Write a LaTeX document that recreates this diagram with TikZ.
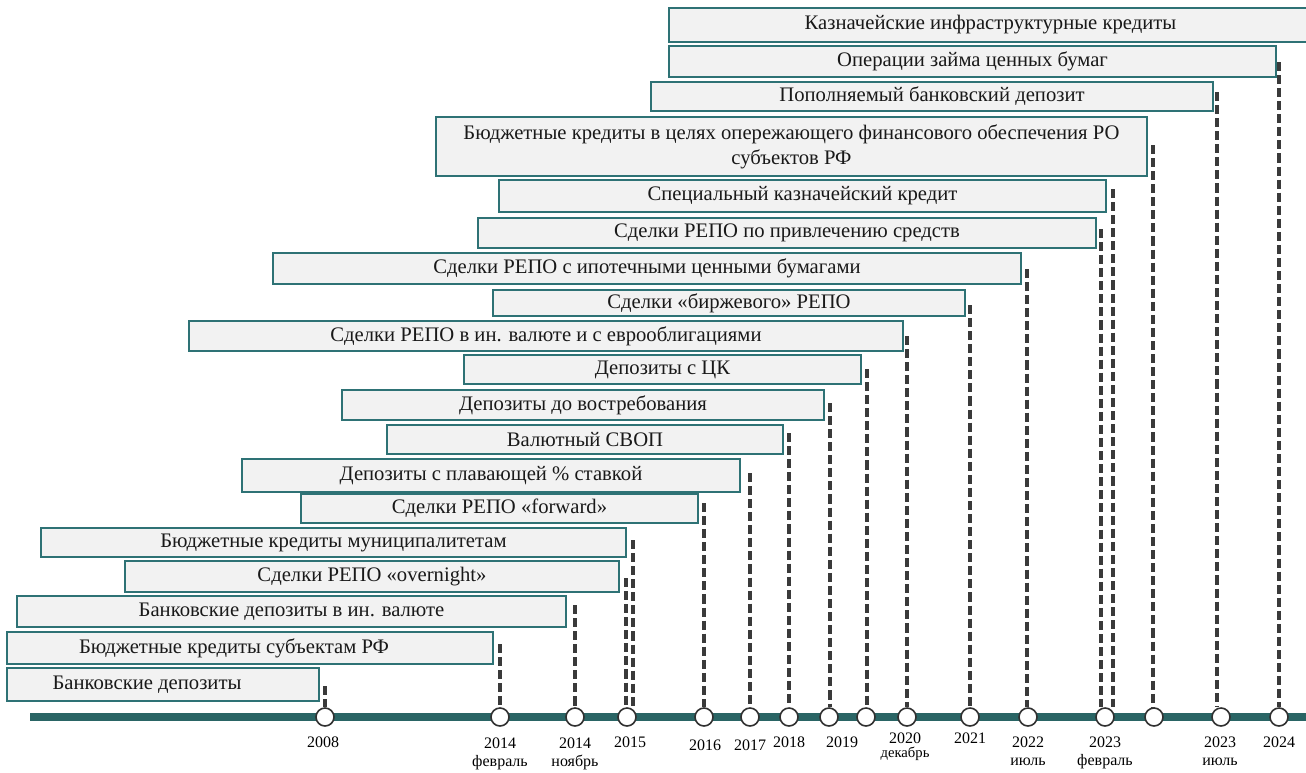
\documentclass[tikz,border=0pt]{standalone}
\usepackage{fontspec}
\setmainfont{Liberation Serif}
\definecolor{boxfill}{HTML}{F2F2F2}
\definecolor{boxedge}{HTML}{2E7275}
\definecolor{linecol}{HTML}{2A6565}
\definecolor{dashgray}{HTML}{3A3A3A}
\definecolor{dotedge}{HTML}{303030}
\newcommand\tbx[6]{\node[tbox, anchor=north west, minimum width={(#4-#2)*0.75pt}, minimum height={(#5-#3)*0.75pt}] (#1) at (#2,#3) {#6};}
\begin{document}
\begin{tikzpicture}[x=0.75pt,y=-0.75pt,
  tbox/.style={draw=boxedge, line width=1.5pt, fill=boxfill, inner sep=0pt, outer sep=0pt,
    font=\fontsize{15.5}{19}\selectfont, text=black!90, align=center},
  dashconn/.style={draw=dashgray, line width=2.6pt, dash pattern=on 6.8pt off 3pt},
  tdot/.style={circle, draw=dotedge, fill=white, line width=1.2pt, minimum size=13.5pt, inner sep=0pt},
  tline/.style={draw=linecol, line width=6pt},
  ylab/.style={font=\fontsize{12}{13.5}\selectfont, align=center, anchor=north, inner sep=0pt, text=black}]
\useasboundingbox (0,0) rectangle (1306,772);

% boxes
\tbx{b1}{669}{8}{1312}{42}{Казначейские инфраструктурные кредиты}
\tbx{b2}{669}{46}{1276}{77}{Операции займа ценных бумаг}
\tbx{b3}{651}{82}{1213}{111}{Пополняемый банковский депозит}
\tbx{b4}{436}{117}{1147}{176}{Бюджетные кредиты в целях опережающего финансового обеспечения РО\\субъектов РФ}
\tbx{b5}{499}{180}{1106}{212}{Специальный казначейский кредит}
\tbx{b6}{478}{218}{1096}{248}{Сделки РЕПО по привлечению средств}
\tbx{b7}{273}{253}{1021}{284}{Сделки РЕПО с ипотечными ценными бумагами}
\tbx{b8}{493}{290}{965}{316}{Сделки «биржевого» РЕПО}
\tbx{b9}{189}{321}{903}{351}{Сделки РЕПО в ин. валюте и с еврооблигациями}
\tbx{b10}{464}{355}{861}{384}{Депозиты с ЦК}
\tbx{b11}{342}{390}{824}{420}{Депозиты до востребования}
\tbx{b12}{387}{425}{783}{454}{Валютный СВОП}
\tbx{b13}{242}{459}{740}{492}{Депозиты с плавающей \% ставкой}
\tbx{b14}{301}{494}{698}{523}{Сделки РЕПО «forward»}
\tbx{b15}{41}{528}{626}{557}{Бюджетные кредиты муниципалитетам}
\tbx{b16}{125}{561}{619}{592}{Сделки РЕПО «overnight»}
\tbx{b17}{17}{596}{566}{627}{Банковские депозиты в ин. валюте}
\tbx{b18}{7}{632}{493}{664}{\hspace*{-24pt}Бюджетные кредиты субъектам РФ}
\tbx{b19}{7}{668}{319}{701}{\hspace*{-24pt}Банковские депозиты}

% timeline
\coordinate (tl0) at (30,717);
\coordinate (tl1) at (1310,717);
\draw[tline] (tl0) -- (tl1);

% dashed connector start points
\coordinate (s19) at (325,686);
\coordinate (s18) at (500,644);
\coordinate (s17) at (575,605);
\coordinate (s16) at (626,578);
\coordinate (s15) at (633,540);
\coordinate (s14) at (704,503);
\coordinate (s13) at (750,473);
\coordinate (s12) at (789,433);
\coordinate (s11) at (830,403);
\coordinate (s10) at (867,369);
\coordinate (s9) at (907,336);
\coordinate (s8) at (970,305);
\coordinate (s7) at (1027,269);
\coordinate (s6) at (1101,229);
\coordinate (s5) at (1113,189);
\coordinate (s4) at (1153,145);
\coordinate (s3) at (1217,92);
\coordinate (s2) at (1279,62);

% circles
\node[tdot] (c1) at (325,717) {};
\node[tdot] (c2) at (500,717) {};
\node[tdot] (c3) at (575,717) {};
\node[tdot] (c4) at (627,717) {};
\node[tdot] (c5) at (704,717) {};
\node[tdot] (c6) at (750,717) {};
\node[tdot] (c7) at (789,717) {};
\node[tdot] (c8) at (829,717) {};
\node[tdot] (c9) at (866,717) {};
\node[tdot] (c10) at (907,717) {};
\node[tdot] (c11) at (970,717) {};
\node[tdot] (c12) at (1028,717) {};
\node[tdot] (c13) at (1105,717) {};
\node[tdot] (c14) at (1154,717) {};
\node[tdot] (c15) at (1221,717) {};
\node[tdot] (c16) at (1279,717) {};

\draw[dashconn] (s19) -- (s19 |- c1.north);
\draw[dashconn] (s18) -- (s18 |- c2.north);
\draw[dashconn] (s17) -- (s17 |- c3.north);
\draw[dashconn] (s16) -- (s16 |- c4.north);
\draw[dashconn] (s15) -- (s15 |- c4.north);
\draw[dashconn] (s14) -- (s14 |- c5.north);
\draw[dashconn] (s13) -- (s13 |- c6.north);
\draw[dashconn] (s12) -- (s12 |- c7.north);
\draw[dashconn] (s11) -- (s11 |- c8.north);
\draw[dashconn] (s10) -- (s10 |- c9.north);
\draw[dashconn] (s9) -- (s9 |- c10.north);
\draw[dashconn] (s8) -- (s8 |- c11.north);
\draw[dashconn] (s7) -- (s7 |- c12.north);
\draw[dashconn] (s6) -- (s6 |- c13.north);
\draw[dashconn] (s5) -- (s5 |- c13.north);
\draw[dashconn] (s4) -- (s4 |- c14.north);
\draw[dashconn] (s3) -- (s3 |- c15.north);
\draw[dashconn] (s2) -- (s2 |- c16.north);

% labels
\node[ylab] (l1) at (323,737) {2008};
\node[ylab] (l2) at (500,737.5) {2014\\февраль};
\node[ylab] (l3) at (575,737.5) {2014\\ноябрь};
\node[ylab] (l4) at (630,736.5) {2015};
\node[ylab] (l5) at (705,739.5) {2016};
\node[ylab] (l6) at (750,739.5) {2017};
\node[ylab] (l7) at (789,736.5) {2018};
\node[ylab] (l8) at (842,736.5) {2019};
\node[ylab] (l9) at (905,732.5) {2020\\[-3pt]{\fontsize{11}{12}\selectfont декабрь}};
\node[ylab] (l10) at (970,732.5) {2021};
\node[ylab] (l11) at (1028,736.5) {2022\\июль};
\node[ylab] (l12) at (1105,736.5) {2023\\февраль};
\node[ylab] (l13) at (1220,736.5) {2023\\июль};
\node[ylab] (l14) at (1279,736.5) {2024};
\end{tikzpicture}
\end{document}
